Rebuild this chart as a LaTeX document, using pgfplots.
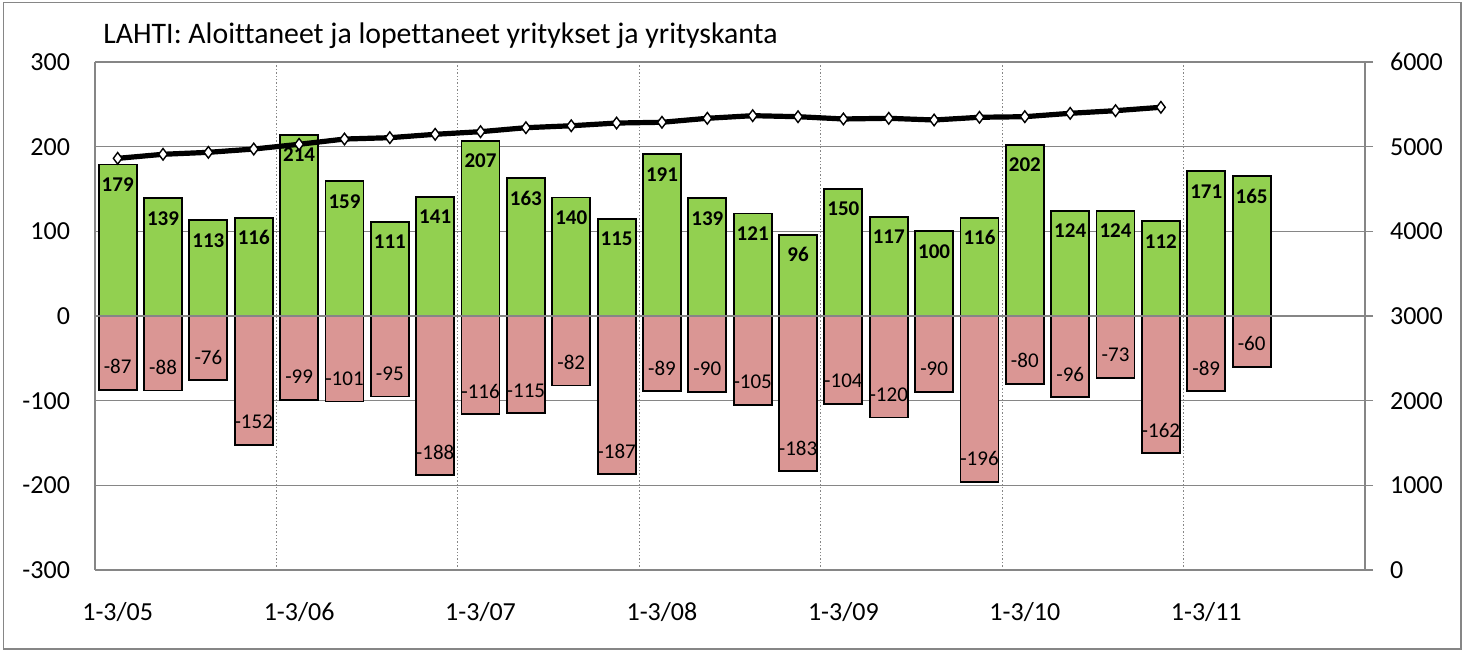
\documentclass[border=0pt]{standalone}
\usepackage{fontspec}
\setmainfont[Ligatures=CommonOff]{Carlito}
\usepackage{pgfplots}
\pgfplotsset{compat=1.18}
\definecolor{gbar}{RGB}{146,208,80}
\definecolor{rbar}{RGB}{218,150,148}
\definecolor{axgray}{RGB}{134,134,134}
\begin{document}
\begin{tikzpicture}
\path[use as bounding box] (0,0) rectangle (734.5pt,326pt);
\draw[axgray, line width=0.8pt] (1.8pt,1.5pt) rectangle (730.5pt,324.8pt);
\node[anchor=base west, inner sep=0pt, font=\fontsize{14.9}{17}\selectfont] at (51.5pt,304.3pt) {LAHTI: Aloittaneet ja lopettaneet yritykset ja yrityskanta};
\begin{axis}[
  at={(47.5pt,41pt)}, anchor=south west, scale only axis,
  width=635pt, height=254pt,
  xmin=-0.5, xmax=27.5, ymin=-300, ymax=300,
  ytick={-300,-200,...,300},
  xtick={0,4,...,24},
  xticklabels={1-3/05,1-3/06,1-3/07,1-3/08,1-3/09,1-3/10,1-3/11},
  extra x ticks={3.5,7.5,11.5,15.5,19.5,23.5},
  extra x tick labels={},
  extra x tick style={xmajorgrids=true, major grid style={axgray, densely dotted, line width=0.6pt}},
  major tick length=0pt,
  ymajorgrids, grid style={axgray, line width=0.7pt},
  axis line style={axgray, line width=0.8pt},
  tick label style={font=\fontsize{13}{15}\selectfont},
  /pgf/number format/assume math mode=true,
  yticklabel style={xshift=-9pt},
  xticklabel style={yshift=-12.5pt},
  axis y line*=left,
]
\addplot[ybar, bar width=19pt, fill=gbar, draw=black, line width=0.9pt,
  nodes near coords,
  nodes near coords style={font=\bfseries\fontsize{10.5}{12}\selectfont, black, anchor=center, yshift=-10pt}]
  coordinates {(0,179) (1,139) (2,113) (3,116) (4,214) (5,159) (6,111) (7,141) (8,207) (9,163) (10,140) (11,115) (12,191) (13,139) (14,121) (15,96) (16,150) (17,117) (18,100) (19,116) (20,202) (21,124) (22,124) (23,112) (24,171) (25,165)};
\addplot[ybar, bar width=19pt, fill=rbar, draw=black, line width=0.9pt,
  nodes near coords,
  nodes near coords style={font=\fontsize{10.5}{12}\selectfont, black, anchor=center, yshift=11.5pt}]
  coordinates {(0,-87) (1,-88) (2,-76) (3,-152) (4,-99) (5,-101) (6,-95) (7,-188) (8,-116) (9,-115) (10,-82) (11,-187) (12,-89) (13,-90) (14,-105) (15,-183) (16,-104) (17,-120) (18,-90) (19,-196) (20,-80) (21,-96) (22,-73) (23,-162) (24,-89) (25,-60)};
\draw[axgray, line width=0.8pt] (axis cs:-0.5,0) -- (axis cs:27.5,0);
\end{axis}
\begin{axis}[
  at={(47.5pt,41pt)}, anchor=south west, scale only axis,
  width=635pt, height=254pt,
  xmin=-0.5, xmax=27.5, ymin=0, ymax=6000,
  ytick={0,1000,...,6000},
  axis x line=none,
  axis y line*=right,
  axis line style={axgray, line width=0.8pt},
  y tick style={axgray, line width=0.8pt},
  tick align=outside, major tick length=4pt,
  tick label style={font=\fontsize{13}{15}\selectfont},
  /pgf/number format/assume math mode=true,
  /pgf/number format/1000 sep={},
  yticklabel style={xshift=5pt},
]
\addplot[black, line width=2.6pt, mark=diamond*, mark size=2.9pt,
  mark options={fill=white, draw=black, line width=0.7pt, solid}]
  coordinates {(0,4862) (1,4910) (2,4933) (3,4972) (4,5028) (5,5090) (6,5106) (7,5146) (8,5177) (9,5224) (10,5247) (11,5279) (12,5288) (13,5335) (14,5366) (15,5354) (16,5327) (17,5335) (18,5315) (19,5347) (20,5354) (21,5394) (22,5425) (23,5465)};
\end{axis}
\end{tikzpicture}
\end{document}
